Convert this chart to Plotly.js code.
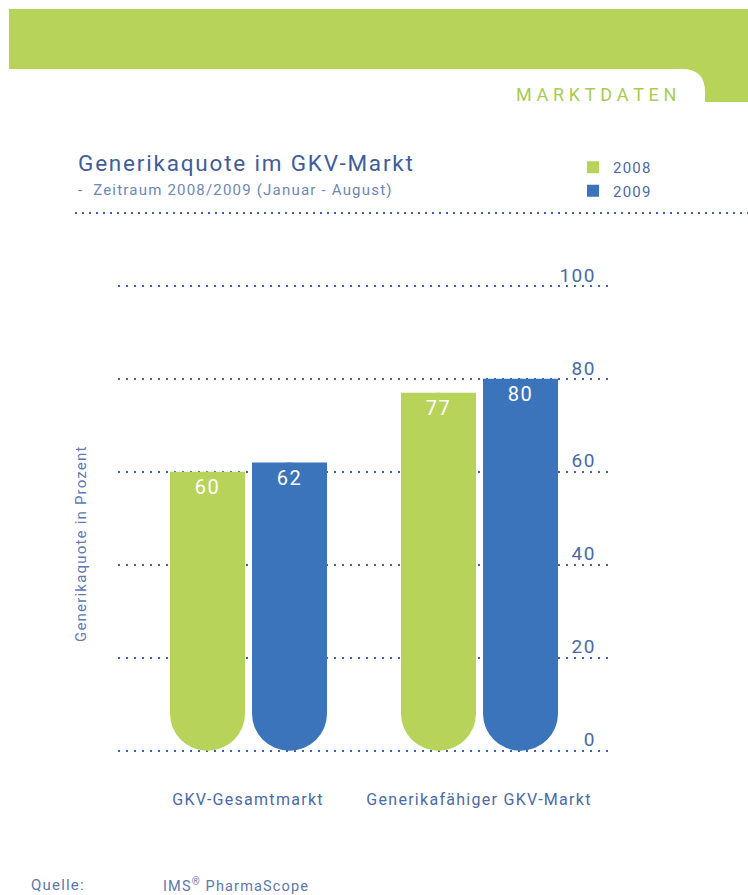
<!DOCTYPE html>
<html>
<head>
<meta charset="utf-8">
<script src="https://cdn.plot.ly/plotly-3.0.1.min.js"></script>
<style>
html,body{margin:0;padding:0;background:#fff;}
#chart{width:748px;height:895px;}
text{letter-spacing:0.08em;}
</style>
</head>
<body>
<div id="chart"></div>
<script>
// ---- data ----
const categories = ['GKV-Gesamtmarkt', 'Generikafähiger GKV-Markt'];
const values2008 = [60, 77];
const values2009 = [62, 80];
const seriesNames = ['2008', '2009'];
const yTicks = [0, 20, 40, 60, 80, 100];

// ---- style ----
const GREEN = '#b8d35a';
const BLUE = '#3b74bb';
const TEXT_BLUE = '#4a6aa6';
const GRID_BLUE = '#3a66b0';
const FONT = 'Roboto, "Noto Sans", sans-serif';
const CAP = 12; // length (in axis units) of the square top cap overlay

const W = 748, H = 895;
const L = 118, R = 610, T = 258, B = 753;
const X = px => (px - L) / (R - L);
const Y = py => (B - py) / (B - T);

// x axis geometry: 231 px per category unit, whole-pixel bar edges
const PXU = 231;
const X0 = -130 / PXU;
const BAR_W = 75 / PXU;
const OFFSETS = {g2008: -78 / PXU, g2009: 4 / PXU};

function roundedBody(name, vals, color, group) {
  return {
    type: 'bar', name: name, x: categories,
    base: vals, y: vals.map(v => -v),
    width: BAR_W, offset: OFFSETS[group],
    legendgroup: group, showlegend: false,
    marker: {color: color, line: {width: 0}, cornerradius: '50%'},
    hoverinfo: 'skip'
  };
}
function squareTop(name, vals, color, group) {
  return {
    type: 'bar', name: name, x: categories,
    base: vals, y: vals.map(() => -CAP),
    width: BAR_W, offset: OFFSETS[group],
    legendgroup: group, showlegend: true,
    text: vals.map(v => String(v)),
    textposition: 'inside', insidetextanchor: 'start',
    textfont: {family: FONT, size: 20, color: '#ffffff'},
    marker: {color: color, line: {width: 0}, cornerradius: 0},
    hoverinfo: 'skip'
  };
}

const data = [
  roundedBody(seriesNames[0], values2008, GREEN, 'g2008'),
  squareTop(seriesNames[0], values2008, GREEN, 'g2008'),
  roundedBody(seriesNames[1], values2009, BLUE, 'g2009'),
  squareTop(seriesNames[1], values2009, BLUE, 'g2009')
];

const tabPath = 'M ' + X(682) + ' ' + Y(69) +
  ' Q ' + X(705) + ' ' + Y(69) + ' ' + X(705) + ' ' + Y(92) +
  ' L ' + X(705) + ' ' + Y(102) +
  ' L ' + X(748) + ' ' + Y(102) +
  ' L ' + X(748) + ' ' + Y(69) + ' Z';

const layout = {
  width: W, height: H,
  margin: {l: L, r: W - R, t: T, b: H - B, pad: 0},
  paper_bgcolor: '#ffffff',
  plot_bgcolor: 'rgba(0,0,0,0)',
  font: {family: FONT, color: TEXT_BLUE},
  barmode: 'overlay',
  showlegend: true,
  legend: {
    x: X(573), y: Y(151), xanchor: 'left', yanchor: 'top',
    font: {family: FONT, size: 15, color: TEXT_BLUE},
    bgcolor: 'rgba(0,0,0,0)', itemwidth: 30, tracegroupgap: 1,
    traceorder: 'grouped'
  },
  xaxis: {
    type: 'category',
    range: [X0, X0 + (R - L) / PXU],
    showgrid: false, zeroline: false, showline: false,
    ticks: '',
    tickfont: {family: FONT, size: 16, color: TEXT_BLUE},
    ticklabelstandoff: 35
  },
  yaxis: {
    range: [-0.5, 106],
    side: 'right',
    tickvals: yTicks,
    ticktext: yTicks.map(String),
    ticklabelposition: 'inside',
    ticklabelstandoff: 11,
    ticklabelshift: -11,
    tickfont: {family: FONT, size: 19, color: TEXT_BLUE},
    showgrid: true,
    gridcolor: GRID_BLUE,
    gridwidth: 2,
    griddash: '2px,6px',
    zeroline: false,
    showline: false,
    ticks: ''
  },
  shapes: [
    {type: 'rect', xref: 'paper', yref: 'paper', x0: X(9), x1: X(748), y0: Y(9), y1: Y(69),
     fillcolor: GREEN, line: {width: 0}, layer: 'below'},
    {type: 'path', xref: 'paper', yref: 'paper', path: tabPath,
     fillcolor: GREEN, line: {width: 0}, layer: 'below'},
    {type: 'line', xref: 'paper', yref: 'paper', x0: X(75), x1: X(748), y0: Y(213), y1: Y(213),
     line: {color: GRID_BLUE, width: 2, dash: '2px,5px'}}
  ],
  annotations: [
    {xref: 'paper', yref: 'paper', x: X(680), y: Y(94), xanchor: 'right', yanchor: 'middle',
     text: 'M\u200AA\u200AR\u200AK\u200AT\u200AD\u200AA\u200AT\u200AE\u200AN', showarrow: false,
     font: {family: FONT, size: 18, color: '#a9cc4f'}},
    {xref: 'paper', yref: 'paper', x: X(76), y: Y(163), xanchor: 'left', yanchor: 'middle',
     text: 'Generikaquote im GKV-Markt', showarrow: false,
     font: {family: FONT, size: 22.5, color: '#3e5d9c'}},
    {xref: 'paper', yref: 'paper', x: X(76), y: Y(190), xanchor: 'left', yanchor: 'middle',
     text: '-  Zeitraum 2008/2009 (Januar - August)', showarrow: false,
     font: {family: FONT, size: 15, color: '#6d87b9'}},
    {xref: 'paper', yref: 'paper', x: X(81), y: Y(544), xanchor: 'center', yanchor: 'middle',
     text: 'Generikaquote in Prozent', textangle: -90, showarrow: false,
     font: {family: FONT, size: 15, color: '#5b7bb5'}},
    {xref: 'paper', yref: 'paper', x: X(29), y: Y(885), xanchor: 'left', yanchor: 'middle',
     text: 'Quelle:', showarrow: false,
     font: {family: FONT, size: 15, color: '#5a78b0'}},
    {xref: 'paper', yref: 'paper', x: X(161), y: Y(885), xanchor: 'left', yanchor: 'middle',
     text: 'IMS<sup>®</sup> PharmaScope', showarrow: false,
     font: {family: FONT, size: 14.5, color: '#5a78b0'}}
  ]
};

Plotly.newPlot('chart', data, layout, {displayModeBar: false, staticPlot: true});
</script>
</body>
</html>
